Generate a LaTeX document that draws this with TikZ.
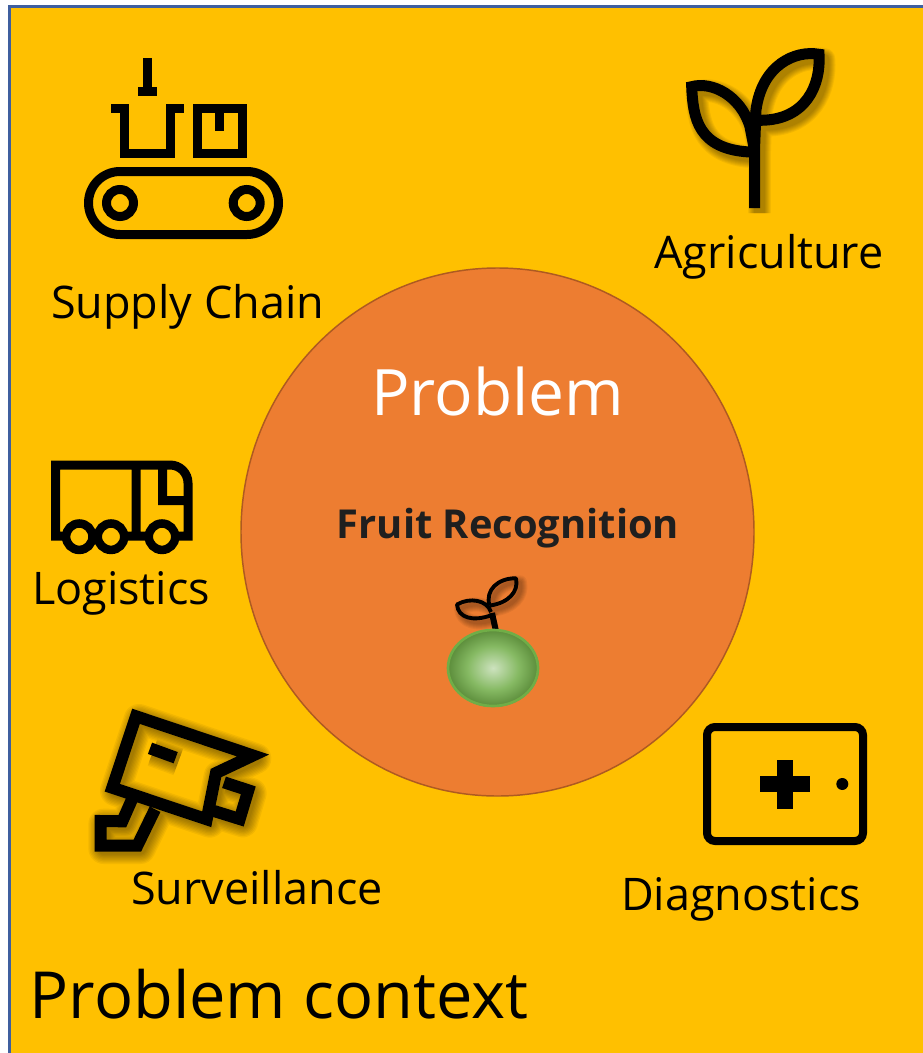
\documentclass[tikz,border=0pt]{standalone}
\usepackage{fontspec}
\setmainfont{Open Sans}
\definecolor{panelfill}{HTML}{FFC000}
\definecolor{panelline}{HTML}{3F5F9F}
\definecolor{circlefill}{HTML}{ED7D31}
\definecolor{circleline}{HTML}{AE5A21}
\definecolor{fruitline}{HTML}{70AD47}
\pgfdeclareradialshading{fruitshade}{\pgfpointorigin}{
  color(0bp)=(fruitline!35!white);
  color(14bp)=(fruitline!85!white);
  color(25bp)=(fruitline!80!black)
}
\tikzset{
  icon/.style={draw=black,line width=6.75pt,line join=miter},
  blur/.style={draw=black,opacity=.05,line join=round},
  label/.style={anchor=base,inner sep=0pt,text=black}
}
\newcommand{\plantpath}{
  (754.5,208) -- (754.5,140)
  (754.5,152) -- (749.3,152) .. controls (698,149) and (693,118) .. (691.7,86.7)
    .. controls (712,81) and (741,96) .. (750,126.7) -- (754.5,150)
  (754.5,150) -- (756,110) .. controls (762,65) and (795,50) .. (819,54.3)
    .. controls (821,85) and (806,120) .. (760.7,120.3) -- (755,120.3)
}
\newcommand{\camerapath}{
  (112.3,787.7) -- (136,716.3) -- (253,755.5) -- (216,773) -- (206.7,819.3) -- cycle
  (224,782.3) -- (248.3,790.3) -- (239.7,819) -- (214,811)
  (150,748.3) -- (175.7,757.7)
  (131.7,800) -- (122.3,821.3) -- (100.7,821) -- (100.7,845.7) -- (137.3,845.7) -- (155,809.3)
}
\newcommand{\sproutpath}{
  (492,615) .. controls (473,622) and (458,618) .. (457,604.5)
    .. controls (470,597) and (487,600) .. (491,612)
  (489.5,605.5) .. controls (485,590) and (498,578) .. (516,578.3)
    .. controls (519,592) and (508,603) .. (490,605.5)
}
\begin{document}
\begin{tikzpicture}[x=.75pt,y=-.75pt]
  \useasboundingbox (0,0) rectangle (923,1053);

  % panel
  \fill[panelfill] (9.5,6.5) rectangle (923,1053);
  \draw[panelline,line width=2pt] (9.5,1053) -- (9.5,6.5) -- (923,6.5);

  % centre
  \draw[circleline,fill=circlefill,line width=1.1pt]
    (497.5,532) ellipse [x radius=256.5,y radius=264];

  % conveyor
  \draw[icon]
    (147.5,58) -- (147.5,88)
    (138,91) -- (157,91)
    (111,108.5) -- (124.5,108.5) -- (124.5,153.5) -- (170.5,153.5) -- (170.5,108.5) -- (184,108.5)
    (197.5,108.5) rectangle (242.5,153.5)
    (219.5,108.5) -- (219.5,131)
    ;
  \draw[icon,rounded corners=23.6pt] (88.5,171.5) rectangle (278.5,234.5);
  \foreach \x in {120,246.7}
    \draw[icon] (\x,203) circle [radius=13.5];

  % plant
  \foreach \w in {8,9.5,11,12.5,14,15.5,17}
    \draw[blur,line width=\w pt,shift={(5,5)}] \plantpath;
  \draw[icon,line width=8.25pt] \plantpath;

  % truck
  \draw[icon]
    (70,536) -- (55.5,536) -- (55.5,465) -- (170,465)
      arc [start angle=-90,end angle=0,radius=18] -- (188,536) -- (170,536)
    (90,536) -- (100,536)
    (120,536) -- (150,536)
    (136,465) -- (136,536)
    (162.5,465) -- (162.5,500.7) -- (188,500.7)
    ;
  \foreach \x in {79.3,111,162}
    \draw[icon,fill=panelfill,line width=6.4pt] (\x,536.7) circle [radius=13.2];

  % camera
  \foreach \w in {9,11,13,15,17,19,21,23}
    \draw[blur,line width=\w pt,shift={(3,3)}] \camerapath;
  \draw[icon,line width=9pt] \camerapath;

  % diagnostics
  \draw[icon,line width=6pt,rounded corners=6pt] (707,727) rectangle (863,841);
  \fill (760,776) rectangle (810,792);
  \fill (777,760) rectangle (793,809);
  \fill (842.3,784) circle [radius=6];

  % fruit
  \foreach \w in {3,4.5,6,7.5,9,10.5}
    \draw[blur,line width=\w pt,shift={(4,4)}] \sproutpath;
  \draw[icon,line width=2.9pt,line join=round] \sproutpath;
  \draw[icon,line width=4.5pt] (492,613) -- (495.7,630);
  \shade[shading=fruitshade] (493,668) ellipse [x radius=46,y radius=39];
  \draw[fruitline,line width=2pt] (493,668) ellipse [x radius=45,y radius=38];

  % labels
  \node[label,font=\fontsize{33.7}{33.7}\selectfont] (supply) at (187.5,318) {Supply Chain};
  \node[label,font=\fontsize{33.7}{33.7}\selectfont] (agri) at (769,268) {Agriculture};
  \node[label,font=\fontsize{33.7}{33.7}\selectfont] (logistics) at (121,604) {Logistics};
  \node[label,font=\fontsize{33.7}{33.7}\selectfont] (surveil) at (257,904) {Surveillance};
  \node[label,font=\fontsize{33.7}{33.7}\selectfont] (diag) at (741,910) {Diagnostics};
  \node[label,text=white,font=\fontsize{48}{48}\selectfont] (problem) at (497.5,415) {Problem};
  \node[label,text=black!88,font=\bfseries\fontsize{29.9}{29.9}\selectfont] (fruit) at (508,538) {Fruit Recognition};
  \node[label,font=\fontsize{48.7}{48.7}\selectfont] (context) at (279,1018) {Problem context};
\end{tikzpicture}
\end{document}
